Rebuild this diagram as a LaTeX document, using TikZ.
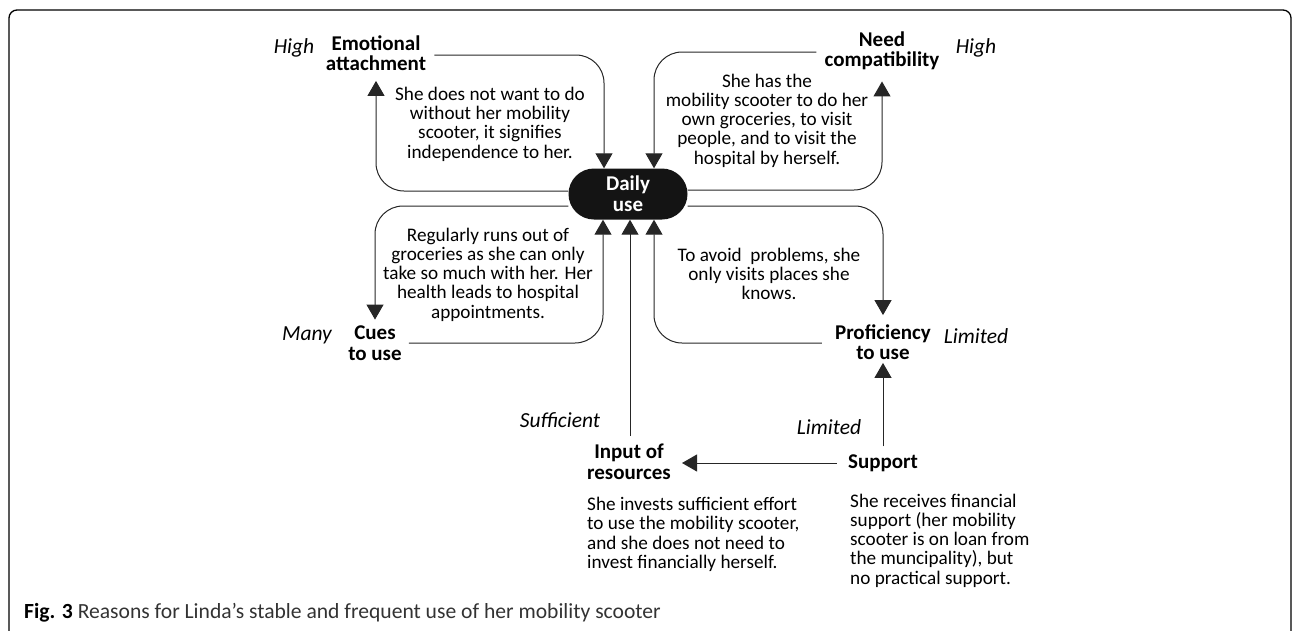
\documentclass[tikz,border=0pt]{standalone}
\usepackage{fontspec}
\setmainfont{Carlito}
\usetikzlibrary{arrows.meta,shapes.misc}
\tikzset{
  conn/.style={draw=black!85, line width=1pt, rounded corners=28pt, -{Triangle[length=15pt,width=17pt]}},
  lbl/.style={font=\fontsize{21}{20.5}\selectfont\bfseries, align=center, inner sep=2pt},
  lvl/.style={font=\fontsize{21.5}{22}\selectfont\itshape, inner sep=0pt},
  body/.style={font=\fontsize{19.2}{19.3}\selectfont, align=center, inner sep=0pt},
  bodyl/.style={font=\fontsize{19.2}{19.3}\selectfont, align=left, inner sep=0pt, anchor=west},
}
\begin{document}
\begin{tikzpicture}[x=1pt,y=-1pt]
\useasboundingbox (0,0) rectangle (1292,630);
% frame
\draw[line width=1.3pt, rounded corners=8pt] (9,640) -- (9,10) -- (1291,10) -- (1291,640);

\node[rounded rectangle, fill=black!92, minimum width=119pt, minimum height=51pt, inner sep=0pt,
      text=white, font=\fontsize{21}{21}\selectfont\bfseries, align=center] (daily) at (628,194) {Daily\\use};

\node[lbl] (emo) at (376,53) {Emotional\\attachment};
\node[lbl] (need) at (882,51) {Need\\compatibility};
\node[lbl] (cues) at (375,343) {Cues\\to use};
\node[lbl] (prof) at (883,342) {Proficiency\\to use};
\node[lbl] (input) at (629,462) {Input of\\resources};
\node[lbl] (support) at (883,463) {Support};

\node[lvl] (h1) at (294,48) {High};
\node[lvl] (h2) at (976,48) {High};
\node[lvl] (many) at (307,335) {Many};
\node[lvl] (lim1) at (976,336) {Limited};
\node[lvl] (suff) at (560,420) {Sufficient};
\node[lvl] (lim2) at (829,427) {Limited};

\node[body] (t1) at (490,124) {She does not want to do\\without her mobility\\scooter, it signifies\\independence to her.};
\node[body] (t2) at (767,120.5) {She has the\\mobility scooter to do her\\own groceries, to visit\\people, and to visit the\\hospital by herself.};
\node[body] (t3) at (488,274.5) {Regularly runs out of\\groceries as she can only\\take so much with her. Her\\health leads to hospital\\appointments.};
\node[body] (t4) at (769,274) {To avoid\ \ problems, she\\only visits places she\\knows.};
\node[bodyl] (t5) at (587,534.5) {She invests sufficient effort\\to use the mobility scooter,\\and she does not need to\\invest financially herself.};
\node[bodyl] (t6) at (850,540.5) {She receives financial\\support (her mobility\\scooter is on loan from\\the muncipality), but\\no practical support.};

\node[anchor=west, inner sep=0pt, font=\fontsize{21.6}{22}\selectfont, text=black!80] (cap) at (24,613)
  {\textcolor{black}{\textbf{Fig. 3}} Reasons for Linda’s stable and frequent use of her mobility scooter};

% connectors
\draw[conn] ([xshift=6pt,yshift=-2pt]emo.east) -| ([xshift=-24pt]daily.north);
\draw[conn] ([yshift=3pt]daily.west) -| ([yshift=-8pt]emo.south);
\draw[conn] ([xshift=-6pt,yshift=-1pt]need.west) -| ([xshift=26pt]daily.north);
\draw[conn] ([yshift=4pt]daily.east) -| ([yshift=-9pt]need.south);
\draw[conn] ([yshift=-12pt]daily.west) -| ([yshift=4pt]cues.north);
\draw[conn] ([xshift=5pt]cues.east) -| ([xshift=-25pt]daily.south);
\draw[conn] ([yshift=-12pt]daily.east) -| ([yshift=7pt]prof.north);
\draw[conn] ([xshift=-11pt,yshift=-1pt]prof.west) -| ([xshift=26pt]daily.south);
\draw[conn] ([xshift=1pt,yshift=6pt]input.north) -- ([xshift=2pt]daily.south);
\draw[conn] ([xshift=-9pt]support.west) -- ([xshift=9pt]support.west -| input.east);
\draw[conn] ([yshift=6pt]support.north) -- ([yshift=-1pt]prof.south);
\end{tikzpicture}
\end{document}
